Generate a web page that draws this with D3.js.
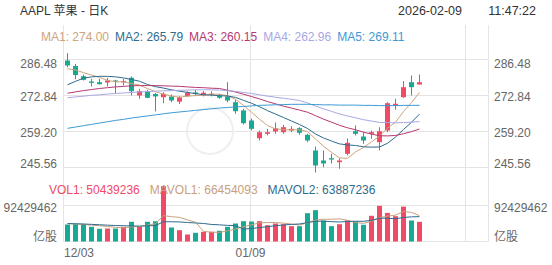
<!DOCTYPE html>
<html><head><meta charset="utf-8">
<script src="https://cdn.jsdelivr.net/npm/d3@7"></script>
<style>
html,body{margin:0;padding:0;background:#fff;}
svg{display:block;font-family:"Liberation Sans","Noto Sans CJK SC",Arial,sans-serif;}
text{white-space:pre;}
</style></head><body>
<svg id="c" width="552" height="265"></svg>
<script>
// ---------- data ----------
const dates = ["12/03","12/04","12/05","12/08","12/09","12/10","12/11","12/12","12/15","12/16","12/17","12/18","12/19","12/22","12/23","12/24","12/26","12/29","12/30","12/31",
  "01/02","01/05","01/06","01/07","01/08","01/09","01/12","01/13","01/14","01/15","01/16","01/20","01/21","01/22","01/23","01/26","01/27","01/28","01/29","01/30",
  "02/02","02/03","02/04","02/05","02/06"];
const opens  = [286.10,284.00,280.15,278.15,277.88,277.77,278.52,277.88,279.55,272.84,274.47,273.40,272.20,272.46,270.50,272.60,274.00,273.10,273.00,272.84,
  272.46,270.30,267.16,263.37,256.66,258.33,259.20,258.93,259.58,260.45,257.95,252.00,248.21,249.08,247.57,250.75,259.31,257.30,258.33,255.15,
  259.58,269.05,272.20,277.88,277.01];
const highs  = [288.87,284.80,280.80,279.17,279.17,279.55,278.79,279.17,280.04,275.38,275.00,273.80,274.09,273.22,272.60,274.40,275.10,274.50,274.40,273.48,
  277.88,271.21,267.80,264.13,259.58,260.22,262.61,261.74,261.21,260.83,258.33,253.52,252.00,250.75,249.08,256.55,261.47,258.93,259.58,260.83,
  270.30,271.59,278.26,280.42,280.80];
const lows   = [283.56,279.00,278.52,276.25,276.99,276.25,273.71,276.63,272.84,271.59,271.82,266.80,269.92,270.30,269.60,272.30,272.80,272.50,272.50,271.59,
  270.30,265.91,261.85,259.58,255.79,257.68,258.33,258.33,258.93,257.95,255.15,243.67,245.67,247.08,245.07,250.11,257.68,254.54,256.43,252.00,
  258.93,267.42,271.90,272.84,277.01];
const closes = [284.21,280.60,278.79,277.65,277.12,278.52,278.03,278.26,274.47,274.47,271.97,272.50,273.48,270.95,272.10,273.90,273.40,273.90,273.50,271.97,
  270.95,266.89,262.35,260.22,258.93,258.93,260.45,260.83,260.22,258.71,255.79,246.32,247.08,248.59,248.21,254.92,258.33,255.79,258.93,259.31,
  269.92,269.70,275.99,275.99,277.88];
const volumes = [43.6,44.4,44.4,37.7,32.6,33.4,33.4,37.7,50.6,37.7,50.6,52.1,142.0,36.0,29.0,18.0,22.3,24.9,24.9,27.5,
  37.7,46.2,52.1,51.3,52.1,41.8,46.2,44.4,39.3,39.3,72.7,80.4,53.9,39.3,44.4,54.4,51.8,42.9,66.0,91.5,
  73.4,65.0,89.5,53.9,50.439236].map(v => v * 1e6);

const ma1 = [283.0,282.5,281.5,280.6,279.69,278.55,278.06,277.96,277.35,276.78,275.46,274.30,273.34,272.64,272.19,272.59,272.80,272.88,273.35,273.32,
  272.73,271.43,269.13,266.48,263.87,261.46,260.18,259.87,259.87,259.83,259.20,256.37,253.62,251.30,249.20,249.02,251.43,253.17,255.24,257.46,
  260.46,262.73,266.77,270.18,274.00];
const ma2 = [276.9,278.2,279.4,279.9,280.1,280.1,279.9,279.5,278.9,278.24,277.01,276.18,275.65,275.00,274.48,274.02,273.55,273.11,272.99,272.76,
  272.66,272.12,271.00,269.91,268.60,267.10,265.80,264.50,263.17,261.85,260.33,258.28,256.75,255.59,254.51,254.11,253.90,253.40,253.27,253.33,
  254.74,257.08,259.97,262.71,265.79];
const ma3 = [273.7,274.2,274.7,275.1,275.5,275.8,276.1,276.3,276.5,276.6,276.6,276.6,276.5,276.4,276.3,276.1,275.9,275.8,275.6,275.50,
  274.83,274.15,273.33,272.45,271.54,270.56,269.68,268.80,268.08,267.30,266.50,265.20,263.88,262.75,261.55,260.61,259.85,258.95,258.22,257.59,
  257.54,257.68,258.36,259.15,260.15];
const ma4 = [272.0,272.3,272.6,272.9,273.1,273.4,273.6,273.8,274.0,274.2,274.3,274.5,274.6,274.7,274.8,274.9,275.0,275.0,275.0,274.9,
  274.7,274.4,274.0,273.6,273.1,272.6,272.2,271.8,271.4,270.95,270.00,268.86,267.80,266.83,265.86,265.08,264.42,263.67,263.15,262.64,
  262.58,262.49,262.57,262.74,262.96];
const ma5 = [260.4,260.9,261.4,261.9,262.4,262.9,263.4,263.8,264.3,264.7,265.1,265.5,265.9,266.3,266.6,266.9,267.2,267.5,267.8,268.1,
  268.3,268.5,268.7,268.9,269.1,269.2,269.3,269.4,269.5,269.5,269.5,269.4,269.3,269.3,269.2,269.2,269.2,269.1,269.1,269.0,
  269.0,269.0,269.1,269.1,269.11];
const mavol1 = [46.0,45.0,44.0,42.0,40.54,38.5,36.3,34.96,37.54,38.56,42.0,45.74,66.6,63.68,61.94,55.42,49.46,26.04,23.82,23.52,
  27.46,32.24,37.68,42.96,47.88,48.7,48.7,47.16,44.76,42.2,48.38,55.22,57.12,57.12,58.14,54.48,48.76,46.56,51.9,61.32,
  65.12,67.76,77.08,74.66,66.454093].map(v => v * 1e6);
const mavol2 = [46.0,45.5,45.0,44.0,43.0,42.0,41.0,40.5,40.0,39.55,40.25,41.02,50.78,50.61,50.25,48.71,47.6,46.32,43.75,42.73,
  41.44,40.85,31.86,33.39,35.7,38.08,40.47,42.42,43.86,45.04,48.54,51.96,52.14,50.94,50.17,51.43,51.99,51.84,54.51,59.73,
  59.8,58.26,61.82,63.28,63.887236].map(v => v * 1e6);

const priceTicks = [286.48, 272.84, 259.20, 245.56];
const volTickValue = 92429462;
const volUnit = "亿股";
const xTickLabels = ["12/03", "01/09"];
const xGridSlots = [-0.5, 22.875, 49.75];
const maNames = ["MA1","MA2","MA3","MA4","MA5"];
const volNames = ["VOL1","MAVOL1","MAVOL2"];
const title = "AAPL 苹果 - 日K";
const stampDate = "2026-02-09";
const stampTime = "11:47:22";

// ---------- styles ----------
const UP = "#f14a66", DOWN = "#16a993";
const maColors = ["#cfa47c","#2f6b8c","#b5396f","#a8a8e4","#3e99d4"];
const volColors = [UP, "#c9a07e", "#2f6b8c"];
const GRID = "#e4e4e4", AXIS = "#666";

const svg = d3.select("#c");
const plotR = 488, plotT = 25, plotB = 241.5;

const x = d3.scaleLinear().domain([0, 50]).range([67.5, 467.5]);
const y = d3.scaleLinear().domain([245.56, 286.48]).range([167.5, 59.5]);
const yv = d3.scaleLinear().domain([0, volTickValue]).range([241.5, 205.5]);
const plotL = x(xGridSlots[0]);

// grid
const g = svg.append("g");
g.selectAll("line.h").data(priceTicks).join("line")
  .attr("x1", plotL).attr("x2", plotR).attr("y1", d => y(d)).attr("y2", d => y(d))
  .attr("stroke", GRID).attr("stroke-width", 1);
g.selectAll("line.hv").data([volTickValue, 0]).join("line")
  .attr("x1", plotL).attr("x2", plotR).attr("y1", d => yv(d)).attr("y2", d => yv(d))
  .attr("stroke", GRID).attr("stroke-width", 1);
g.selectAll("line.v").data(xGridSlots).join("line")
  .attr("x1", d => x(d)).attr("x2", d => x(d)).attr("y1", plotT).attr("y2", plotB)
  .attr("stroke", GRID).attr("stroke-width", 1);
g.append("line").attr("x1", plotR + .5).attr("x2", plotR + .5).attr("y1", plotT).attr("y2", plotB)
  .attr("stroke", GRID);

// watermark
svg.append("circle").attr("cx", 210).attr("cy", 131).attr("r", 23)
  .attr("fill", "none").attr("stroke", "#efefef").attr("stroke-width", 2);

const idx = d3.range(dates.length);
const col = i => closes[i] >= opens[i] ? UP : DOWN;

// candles
const cg = svg.append("g");
cg.selectAll("line.w").data(idx).join("line")
  .attr("x1", i => x(i)).attr("x2", i => x(i))
  .attr("y1", i => y(highs[i])).attr("y2", i => y(lows[i]))
  .attr("stroke", col).attr("stroke-width", 1);
cg.selectAll("rect").data(idx).join("rect")
  .attr("x", i => x(i) - 2.5).attr("width", 5)
  .attr("y", i => y(Math.max(opens[i], closes[i])))
  .attr("height", i => Math.max(1, Math.abs(y(opens[i]) - y(closes[i]))))
  .attr("fill", col);

// MA lines
const line = d3.line().x((d, i) => x(i)).y(d => y(d));
[ma1, ma2, ma3, ma4, ma5].forEach((arr, k) => {
  svg.append("path").attr("d", line(arr)).attr("fill", "none")
    .attr("stroke", maColors[k]).attr("stroke-width", 1);
});

// volume bars
svg.append("g").selectAll("rect").data(idx).join("rect")
  .attr("x", i => x(i) - 2.5).attr("width", 5)
  .attr("y", i => yv(volumes[i])).attr("height", i => yv(0) - yv(volumes[i]))
  .attr("fill", col);
const vline = d3.line().x((d, i) => x(i)).y(d => yv(d));
[mavol1, mavol2].forEach((arr, k) => {
  svg.append("path").attr("d", vline(arr)).attr("fill", "none")
    .attr("stroke", volColors[k + 1]).attr("stroke-width", 1);
});

// axes text
const lab = (t, xx, yy, anchor, fill, fs) => svg.append("text").text(t).attr("x", xx).attr("y", yy)
  .attr("text-anchor", anchor).attr("dominant-baseline", "central")
  .attr("font-size", fs || 12).attr("fill", fill || AXIS);
const off = [4.5, 1.5, 1, -4];
priceTicks.forEach((p, k) => {
  lab(p.toFixed(2), 57, y(p) + off[k], "end");
  lab(p.toFixed(2), 494, y(p) + off[k], "start");
});
lab(String(volTickValue), 57, yv(volTickValue) + 2, "end");
lab(String(volTickValue), 494, yv(volTickValue) + 2, "start");
lab(volUnit, 57, 237, "end");
lab(volUnit, 494, 237, "start");
xTickLabels.forEach((t, k) => {
  const gx = x(xGridSlots[k]);
  lab(t, k === 0 ? gx + 0.5 : gx, 253, k === 0 ? "start" : "middle");
});

// title
lab(title, 20, 11, "start", "#333");
lab(stampDate, 462, 11, "end", "#333", 12.5);
lab(stampTime, 536, 11, "end", "#333", 12.5);

// MA legend
const maVals = [ma1, ma2, ma3, ma4, ma5].map(a => a[a.length - 1]);
let lx = 41;
maNames.forEach((n, k) => {
  const t = lab(n + ": " + maVals[k].toFixed(2), lx, 37, "start", maColors[k]);
  lx += t.node().getComputedTextLength() + 6;
});
// VOL legend
const volVals = [volumes[volumes.length - 1], mavol1[mavol1.length - 1], mavol2[mavol2.length - 1]];
lx = 49;
volNames.forEach((n, k) => {
  const t = lab(n + ": " + Math.round(volVals[k]), lx, 190, "start", volColors[k]);
  lx += t.node().getComputedTextLength() + 10;
});
</script>
</body></html>
